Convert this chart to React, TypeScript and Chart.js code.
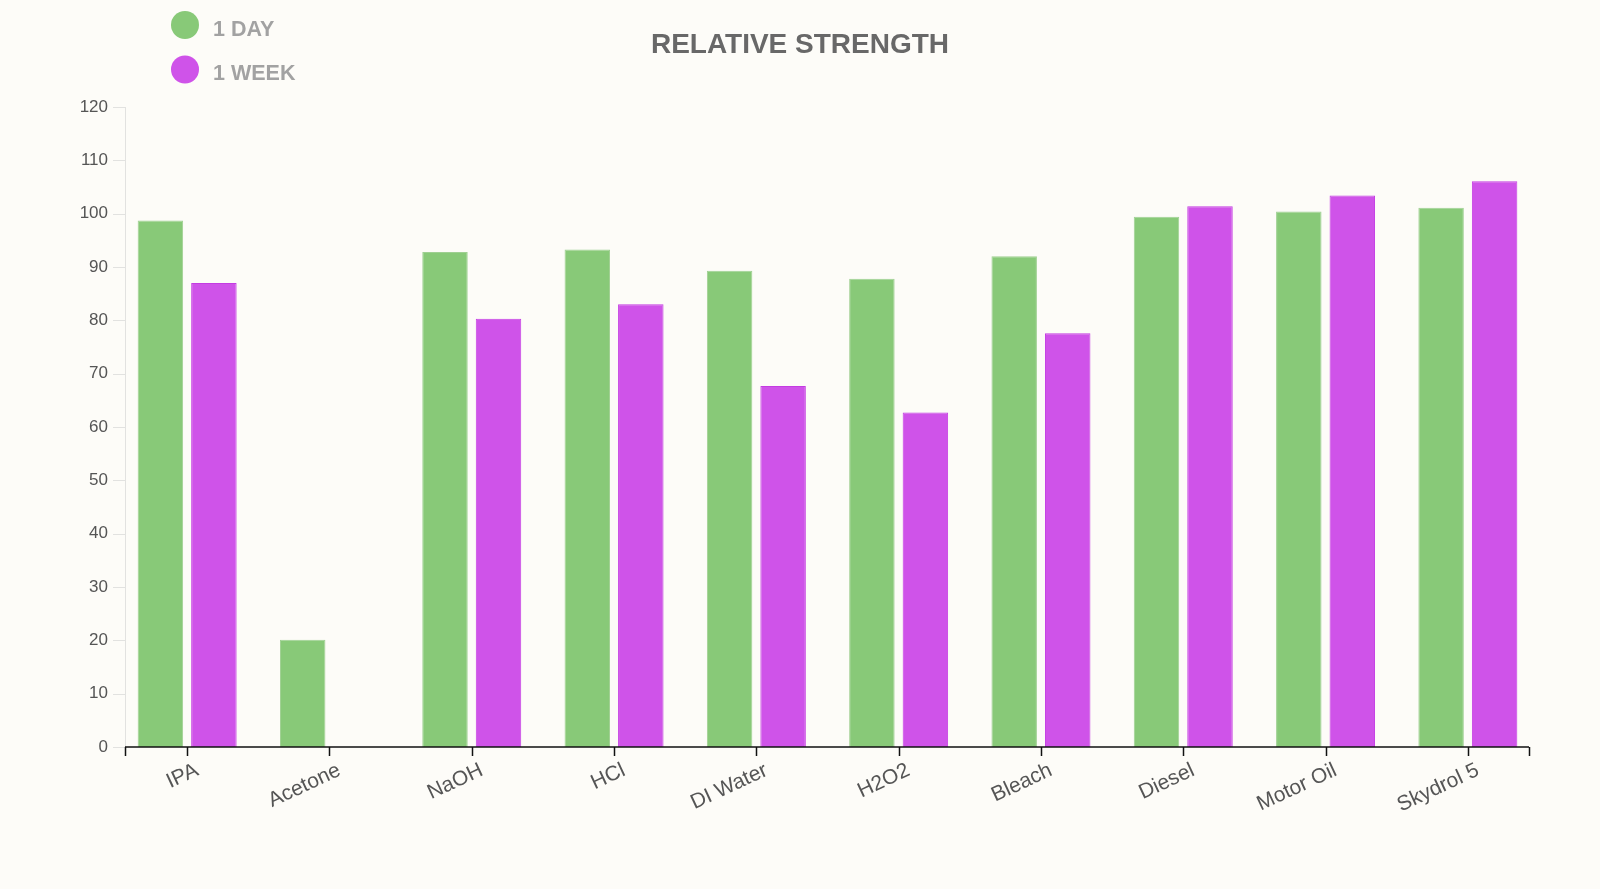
import React, { useEffect, useRef } from "react";
import { Chart, registerables } from "chart.js";

Chart.register(...registerables);

const categories = ["IPA", "Acetone", "NaOH", "HCl", "DI Water", "H2O2", "Bleach", "Diesel", "Motor Oil", "Skydrol 5"];
const oneDay = [98.7, 20.1, 92.8, 93.3, 89.3, 87.8, 92.0, 99.4, 100.4, 101.1];
const oneWeek: (number | null)[] = [87.0, null, 80.3, 83.0, 67.7, 62.7, 77.6, 101.4, 103.4, 106.1];
const seriesLabels = ["1 DAY", "1 WEEK"];
const chartTitle = "RELATIVE STRENGTH";
const yMin = 0;
const yMax = 120;
const yStep = 10;

const GREEN = "#88c978";
const PURPLE = "#cf53e9";
const BG = "#fdfcf8";
const FONT = "'Liberation Sans', Arial, sans-serif";

const decorPlugin = {
  id: "decor",
  beforeDraw(chart: any) {
    const ctx = chart.ctx;
    ctx.save();
    ctx.fillStyle = BG;
    ctx.fillRect(0, 0, chart.width, chart.height);
    ctx.restore();
  },
  afterDatasetsDraw(chart: any) {
    const ctx = chart.ctx;
    const xs = chart.scales.x;
    const ys = chart.scales.y;
    const inset = 9;
    const axisX0 = xs.left + inset;
    const axisX1 = xs.right - 10;
    const y0 = ys.getPixelForValue(yMin);
    const yTop = ys.getPixelForValue(yMax);
    ctx.save();
    // y axis line and ticks
    ctx.strokeStyle = "#e2e2e0";
    ctx.lineWidth = 1;
    ctx.beginPath();
    ctx.moveTo(axisX0 + 0.5, yTop);
    ctx.lineTo(axisX0 + 0.5, y0);
    for (let v = yMin; v <= yMax; v += yStep) {
      const py = Math.round(ys.getPixelForValue(v)) + 0.5;
      ctx.moveTo(axisX0 - 12, py);
      ctx.lineTo(axisX0, py);
    }
    ctx.stroke();
    // x axis line and ticks
    ctx.strokeStyle = "#111";
    ctx.lineWidth = 1.5;
    ctx.beginPath();
    ctx.moveTo(axisX0, y0);
    ctx.lineTo(axisX1, y0);
    const tickXs = [axisX0, axisX1];
    categories.forEach((_, i) => tickXs.push(xs.getPixelForValue(i)));
    tickXs.forEach((tx) => {
      const px = Math.round(tx) + 0.5;
      ctx.moveTo(px, y0);
      ctx.lineTo(px, y0 + 9);
    });
    ctx.stroke();
    ctx.restore();
  },
  afterDraw(chart: any) {
    const ctx = chart.ctx;
    ctx.save();
    // title
    ctx.fillStyle = "#686868";
    ctx.font = `bold 28px ${FONT}`;
    ctx.textAlign = "center";
    ctx.textBaseline = "alphabetic";
    ctx.fillText(chartTitle, 800, 53);
    // legend
    const colors = [GREEN, PURPLE];
    const cys = [25, 69.5];
    ctx.font = `bold 21.5px ${FONT}`;
    ctx.textAlign = "left";
    seriesLabels.forEach((lab, i) => {
      ctx.fillStyle = colors[i];
      ctx.beginPath();
      ctx.arc(185, cys[i], 14, 0, Math.PI * 2);
      ctx.fill();
      ctx.fillStyle = "#a2a2a2";
      ctx.fillText(lab, 213, cys[i] + 10.5);
    });
    ctx.restore();
  },
};

export default function App() {
  const canvasRef = useRef<HTMLCanvasElement | null>(null);

  useEffect(() => {
    const canvas = canvasRef.current;
    if (!canvas) return;
    const chart = new Chart(canvas, {
      type: "bar",
      data: {
        labels: categories,
        datasets: [
          {
            label: seriesLabels[0],
            data: oneDay,
            backgroundColor: GREEN,
            borderColor: "#9fd092",
            borderWidth: 1,
            categoryPercentage: 0.752,
            barPercentage: 0.85,
          },
          {
            label: seriesLabels[1],
            data: oneWeek,
            backgroundColor: PURPLE,
            borderColor: "#c43ce2",
            borderWidth: 1,
            categoryPercentage: 0.752,
            barPercentage: 0.85,
          },
        ],
      },
      plugins: [decorPlugin],
      options: {
        responsive: false,
        animation: false,
        layout: { padding: { left: 0, right: 61, top: 107, bottom: 62 } },
        plugins: {
          legend: { display: false },
          title: { display: false },
          tooltip: { enabled: false },
        },
        scales: {
          x: {
            type: "category",
            offset: true,
            grid: { display: false, drawTicks: false },
            border: { display: false },
            afterFit: (scale: any) => {
              scale.height = 80;
            },
            ticks: {
              autoSkip: false,
              minRotation: 25,
              maxRotation: 25,
              padding: 11,
              labelOffset: 10,
              color: "#555",
              font: { family: FONT, size: 21 },
            },
          },
          y: {
            type: "linear",
            min: yMin,
            max: yMax,
            grid: { display: false, drawTicks: false },
            border: { display: false },
            afterFit: (scale: any) => {
              scale.width = 116;
            },
            ticks: {
              stepSize: yStep,
              padding: 8,
              color: "#555",
              font: { family: FONT, size: 17 },
            },
          },
        },
      },
    });
    return () => chart.destroy();
  }, []);

  return (
    <div style={{ position: "fixed", left: 0, top: 0, width: 1600, height: 889, background: BG, overflow: "hidden" }}>
      <canvas ref={canvasRef} width={1600} height={889} style={{ display: "block" }} />
    </div>
  );
}
